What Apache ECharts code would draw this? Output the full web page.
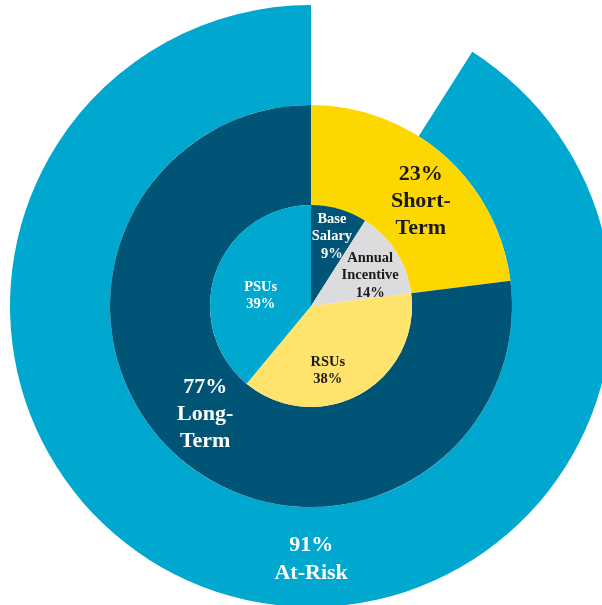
<!DOCTYPE html>
<html>
<head>
<meta charset="utf-8">
<script src="https://cdn.jsdelivr.net/npm/echarts@6/dist/echarts.min.js"></script>
<style>
html,body{margin:0;padding:0;background:#fff;}
#chart{width:602px;height:605px;}
</style>
</head>
<body>
<div id="chart"></div>
<script>
// Data
var outerNames = ['Not At-Risk', 'At-Risk'];
var outerValues = [9, 91];
var middleNames = ['Short-Term', 'Long-Term'];
var middleValues = [23, 77];
var innerNames = ['Base Salary', 'Annual Incentive', 'RSUs', 'PSUs'];
var innerValues = [9, 14, 38, 39];

// Label text (line breaks as in the original)
var outerLabels = ['', '91%\nAt-Risk'];
var middleLabels = ['23%\nShort-\nTerm', '77%\nLong-\nTerm'];
var innerLabels = ['Base\nSalary\n9%', 'Annual\nIncentive\n14%', 'RSUs\n38%', 'PSUs\n39%'];

// Styles
var outerColors = ['rgba(0,0,0,0)', '#00A8CF'];
var middleColors = ['#FDD800', '#005475'];
var innerColors = ['#005475', '#DCDCDE', '#FFE36C', '#00A8CF'];
var outerTextColors = ['#fff', '#fff'];
var middleTextColors = ['#1a1a1a', '#fff'];
var innerTextColors = ['#fff', '#1a1a1a', '#1a1a1a', '#fff'];
var outerOffsets = [[0, 0], [71, 9]];
var middleOffsets = [[8, 11], [-4, -7]];
var innerOffsets = [[6, -18], [14, -2], [-9, 18], [0, 8]];

var FONT = '"Liberation Serif", "Times New Roman", serif';

function build(names, values, labels, colors, textColors, offsets, size, lh) {
  return names.map(function (n, i) {
    return {
      name: n,
      value: values[i],
      itemStyle: { color: colors[i], borderWidth: 0 },
      label: {
        show: labels[i] !== '',
        formatter: labels[i],
        color: textColors[i],
        offset: offsets[i],
        fontSize: size,
        lineHeight: lh,
        fontWeight: 'bold',
        fontFamily: FONT,
        align: 'center'
      }
    };
  });
}

var common = {
  type: 'pie',
  center: [311, 306],
  startAngle: 90,
  clockwise: true,
  avoidLabelOverlap: false,
  labelLine: { show: false },
  label: { position: 'inside' },
  labelLayout: { hideOverlap: false },
  emphasis: { disabled: true },
  silent: true,
  animation: false
};

var chart = echarts.init(document.getElementById('chart'), null, { renderer: 'canvas' });
chart.setOption({
  backgroundColor: '#ffffff',
  animation: false,
  series: [
    Object.assign({}, common, {
      name: 'outer',
      radius: [201, 301],
      data: build(outerNames, outerValues, outerLabels, outerColors, outerTextColors, outerOffsets, 22, 28)
    }),
    Object.assign({}, common, {
      name: 'middle',
      radius: [101, 201],
      data: build(middleNames, middleValues, middleLabels, middleColors, middleTextColors, middleOffsets, 22, 27)
    }),
    Object.assign({}, common, {
      name: 'inner',
      radius: [0, 101],
      data: build(innerNames, innerValues, innerLabels, innerColors, innerTextColors, innerOffsets, 14.5, 17.5)
    })
  ]
});
</script>
</body>
</html>
